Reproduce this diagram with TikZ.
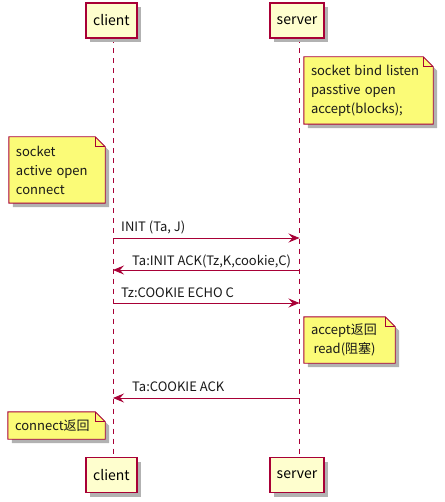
\documentclass[tikz,border=0pt]{standalone}
\usepackage{fontspec}
\setmainfont{Noto Sans CJK SC}
\usetikzlibrary{arrows.meta,backgrounds,shadows}
\definecolor{pborder}{HTML}{A80036}
\definecolor{pfill}{HTML}{FEFECE}
\definecolor{nfill}{HTML}{FBFB77}
\tikzset{
  x=1pt, y=-1pt,
  myshadow/.style={drop shadow={shadow xshift=4pt, shadow yshift=-4pt, fill=black!30, opacity=1}},
  part/.style={draw=pborder, fill=pfill, line width=1.1pt, minimum height=35pt, inner sep=0pt,
    font=\fontsize{14}{16}\selectfont, myshadow},
  life/.style={draw=pborder, line width=0.8pt, dash pattern=on 5pt off 5pt},
  msg/.style={draw=pborder, line width=0.9pt, -{Stealth[length=11pt,width=9pt,inset=4pt]}},
  lbl/.style={anchor=base west, inner sep=0pt, font=\fontsize{13}{15}\selectfont, text=black!90},
  notetext/.style={anchor=center, inner ysep=0pt, inner xsep=7pt, align=left,
    font=\fontsize{13}{19}\selectfont, text=black!90},
  noteshape/.style={draw=pborder, fill=nfill, line width=0.9pt},
  noteshadow/.style={fill=black!30},
  notefold/.style={draw=pborder, line width=0.9pt},
}
\newcommand\drawnote[1]{%
  \begin{pgfonlayer}{background}
    \path[noteshadow] ([shift={(4pt,-4pt)}]#1.north west) -- ([shift={(-6pt,-4pt)}]#1.north east) -- ([shift={(4pt,-14pt)}]#1.north east)
      -- ([shift={(4pt,-4pt)}]#1.south east) -- ([shift={(4pt,-4pt)}]#1.south west) -- cycle;
    \path[noteshape] (#1.north west) -- ([xshift=-10pt]#1.north east) -- ([yshift=-10pt]#1.north east)
      -- (#1.south east) -- (#1.south west) -- cycle;
    \path[notefold] ([xshift=-10pt]#1.north east) |- ([yshift=-10pt]#1.north east);
  \end{pgfonlayer}}
\begin{document}
\begin{tikzpicture}
\useasboundingbox (0,0) rectangle (444,502);
% participants
\node[part, minimum width=51pt] (ct) at (111.5,20.5) {client};
\node[part, minimum width=54pt] (st) at (297,20.5) {server};
\node[part, minimum width=51pt] (cb) at (111.5,475) {client};
\node[part, minimum width=54pt] (sb) at (297,475) {server};
% lifelines
\coordinate (clt) at (113,38.5);
\coordinate (clb) at (113,457);
\coordinate (slt) at (299.5,38.5);
\coordinate (slb) at (299.5,457);
\begin{pgfonlayer}{background}
\draw[life] (clt) -- (clb);
\draw[life] (slt) -- (slb);
\end{pgfonlayer}
% notes
\node[notetext, text width=115pt, minimum height=67pt] (n1) at (368.5,90.5)
  {socket\hspace{4pt}bind\hspace{4pt}listen\\passtive open\\accept(blocks);};
\drawnote{n1}
\node[notetext, text width=82pt, minimum height=66pt] (n2) at (57,170)
  {socket\\active open\\connect};
\drawnote{n2}
\node[notetext, text width=77pt, minimum height=46pt] (n3) at (349.5,340)
  {accept返回\\\hspace*{2.5pt}read(阻塞)};
\drawnote{n3}
\node[notetext, text width=83pt, minimum height=27pt] (n4) at (56.5,425.5)
  {connect返回};
\drawnote{n4}
% messages
\coordinate (m1a) at (113,238);  \coordinate (m1b) at (299.5,238);
\coordinate (m2a) at (299.5,270);  \coordinate (m2b) at (113,270);
\coordinate (m3a) at (113,303);  \coordinate (m3b) at (299.5,303);
\coordinate (m4a) at (299.5,398);  \coordinate (m4b) at (113,398);
\draw[msg] (m1a) -- (m1b);
\draw[msg] (m2a) -- (m2b);
\draw[msg] (m3a) -- (m3b);
\draw[msg] (m4a) -- (m4b);
\node[lbl] (l1) at (121,232) {INIT (Ta, J)};
\node[lbl] (l2) at (132,265.5) {Ta:INIT ACK(Tz,K,cookie,C)};
\node[lbl] (l3) at (121,297.5) {Tz:COOKIE ECHO C};
\node[lbl] (l4) at (132,391.5) {Ta:COOKIE ACK};
\end{tikzpicture}
\end{document}
